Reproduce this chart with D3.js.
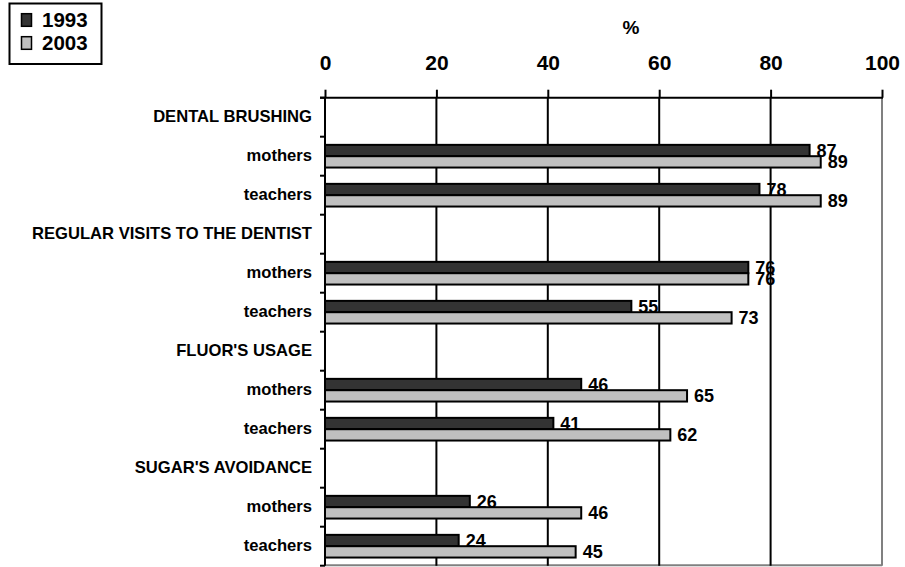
<!DOCTYPE html>
<html>
<head>
<meta charset="utf-8">
<script src="https://cdn.jsdelivr.net/npm/d3@7"></script>
<style>
  html, body { margin: 0; padding: 0; background: #fff; }
  svg { display: block; font-family: "Liberation Sans", Arial, sans-serif; font-weight: bold; }
</style>
</head>
<body>
<svg id="chart" width="905" height="567"></svg>
<script>
// Rows from top to bottom: each topic header followed by its two groups
const rows = [
  "DENTAL BRUSHING", "mothers|1", "teachers|1",
  "REGULAR VISITS TO THE DENTIST", "mothers|2", "teachers|2",
  "FLUOR'S USAGE", "mothers|3", "teachers|3",
  "SUGAR'S AVOIDANCE", "mothers|4", "teachers|4"
];
const groups = ["mothers|1", "teachers|1", "mothers|2", "teachers|2",
                "mothers|3", "teachers|3", "mothers|4", "teachers|4"];
const years = ["1993", "2003"];
const values1993 = [87, 78, 76, 55, 46, 41, 26, 24];
const values2003 = [89, 89, 76, 73, 65, 62, 46, 45];
const xTicks = [0, 20, 40, 60, 80, 100];

const colors = { "1993": "#333333", "2003": "#c0c0c0" };

const svg = d3.select("#chart");
const plotLeft = 325, plotRight = 882, plotTop = 97.7, plotBottom = 565.7;

const x = d3.scaleLinear().domain([0, 100]).range([plotLeft, plotRight]);
const y = d3.scaleBand().domain(rows).range([plotTop, plotBottom]);
const sub = d3.scaleBand().domain(years).range([0, y.bandwidth()]).paddingOuter(0.72);

// Plot frame: grey right and bottom edges
svg.append("line").attr("x1", plotRight).attr("x2", plotRight).attr("y1", plotTop).attr("y2", plotBottom)
  .attr("stroke", "#808080").attr("stroke-width", 2);
svg.append("line").attr("x1", plotLeft).attr("x2", plotRight).attr("y1", plotBottom - 0.5).attr("y2", plotBottom - 0.5)
  .attr("stroke", "#808080").attr("stroke-width", 2);

// Vertical gridlines
svg.append("g").selectAll("line").data(xTicks.filter(d => d > 0 && d < 100)).join("line")
  .attr("x1", d => x(d)).attr("x2", d => x(d))
  .attr("y1", plotTop).attr("y2", plotBottom)
  .attr("stroke", "#000").attr("stroke-width", 2);

// Top value axis
const xAxis = d3.axisTop(x).tickValues(xTicks).tickSize(8).tickPadding(20).tickSizeOuter(0);
const gx = svg.append("g").attr("transform", `translate(0,${plotTop})`).call(xAxis);
gx.select(".domain").remove();
gx.selectAll(".tick line").attr("stroke", "#000").attr("stroke-width", 2);
gx.selectAll(".tick text").attr("fill", "#000").attr("font-size", 21)
  .attr("font-family", "'Liberation Sans', Arial, sans-serif").attr("font-weight", "bold");
svg.append("line").attr("x1", plotLeft - 5).attr("x2", plotRight + 1).attr("y1", plotTop).attr("y2", plotTop)
  .attr("stroke", "#000").attr("stroke-width", 2);

svg.append("text").attr("x", 631).attr("y", 34).attr("text-anchor", "middle")
  .attr("font-size", 19).text("%");

// Left category axis: separators at row boundaries, labels centred in rows
svg.append("line").attr("x1", plotLeft).attr("x2", plotLeft).attr("y1", plotTop).attr("y2", plotBottom)
  .attr("stroke", "#000").attr("stroke-width", 2);
const bounds = rows.map(r => y(r)).concat([plotBottom]);
svg.append("g").selectAll("line").data(bounds).join("line")
  .attr("x1", plotLeft - 5).attr("x2", plotLeft)
  .attr("y1", d => d).attr("y2", d => d)
  .attr("stroke", "#000").attr("stroke-width", 2);
svg.append("g").selectAll("text").data(rows).join("text")
  .attr("x", 312)
  .attr("y", d => y(d) + y.bandwidth() / 2 + 5)
  .attr("text-anchor", "end")
  .attr("font-size", 16.6)
  .text(d => d.split("|")[0]);

// Bars
const barData = [];
groups.forEach((g, i) => {
  barData.push({ row: g, year: "1993", value: values1993[i] });
  barData.push({ row: g, year: "2003", value: values2003[i] });
});

svg.append("g").selectAll("rect").data(barData).join("rect")
  .attr("x", x(0))
  .attr("y", d => y(d.row) + sub(d.year))
  .attr("width", d => x(d.value) - x(0))
  .attr("height", sub.bandwidth())
  .attr("fill", d => colors[d.year])
  .attr("stroke", "#000").attr("stroke-width", 2);

// Value labels
svg.append("g").selectAll("text").data(barData).join("text")
  .attr("x", d => x(d.value) + 7)
  .attr("y", d => y(d.row) + sub(d.year) + sub.bandwidth() / 2 + 6.3)
  .attr("font-size", 18)
  .text(d => d.value);

// Legend
const legend = svg.append("g");
legend.append("rect").attr("x", 9.5).attr("y", 3.5).attr("width", 92).attr("height", 60.5)
  .attr("fill", "#fff").attr("stroke", "#000").attr("stroke-width", 2);
years.forEach((yr, i) => {
  const cy = 20 + i * 23;
  legend.append("rect").attr("x", 21.5).attr("y", cy - 6.3).attr("width", 10).attr("height", 12.6)
    .attr("fill", colors[yr]).attr("stroke", "#000").attr("stroke-width", 1.5);
  legend.append("text").attr("x", 42).attr("y", cy + 7.3).attr("font-size", 20.5).text(yr);
});
</script>
</body>
</html>
